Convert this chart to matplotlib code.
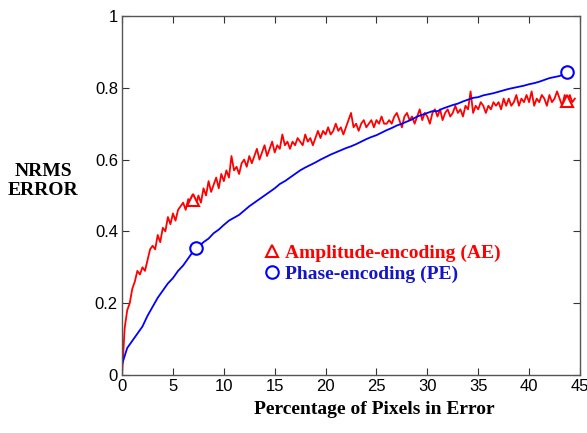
import numpy as np
import matplotlib
matplotlib.use('Agg')
import matplotlib.pyplot as plt
from matplotlib.lines import Line2D

# Amplitude-encoding (AE), sampled every 0.25 % of pixels in error
ae_x = np.arange(0, 44.51, 0.25)
ae_y = [0.00, 0.13, 0.18, 0.20,
        0.24, 0.26, 0.29, 0.28,
        0.30, 0.29, 0.32, 0.35,
        0.36, 0.35, 0.39, 0.37,
        0.41, 0.40, 0.44, 0.42,
        0.45, 0.43, 0.46, 0.47,
        0.48, 0.46, 0.49, 0.48,
        0.49, 0.47, 0.50, 0.48,
        0.52, 0.50, 0.54, 0.51,
        0.53, 0.55, 0.52, 0.56,
        0.54, 0.57, 0.55, 0.61,
        0.57, 0.58, 0.56, 0.59,
        0.60, 0.58, 0.61, 0.59,
        0.61, 0.63, 0.60, 0.62,
        0.64, 0.61, 0.63, 0.65,
        0.62, 0.64, 0.63, 0.67,
        0.64, 0.65, 0.63, 0.65,
        0.64, 0.66, 0.65, 0.64,
        0.67, 0.65, 0.66, 0.64,
        0.66, 0.68, 0.66, 0.68,
        0.67, 0.69, 0.67, 0.68,
        0.70, 0.68, 0.69, 0.67,
        0.69, 0.71, 0.73, 0.69,
        0.70, 0.68, 0.70, 0.71,
        0.69, 0.70, 0.71, 0.69,
        0.71, 0.70, 0.72, 0.70,
        0.70, 0.71, 0.70, 0.72,
        0.73, 0.71, 0.69, 0.72,
        0.73, 0.71, 0.72, 0.70,
        0.72, 0.74, 0.71, 0.73,
        0.72, 0.70, 0.73, 0.74,
        0.72, 0.74, 0.71, 0.73,
        0.74, 0.72, 0.73, 0.75,
        0.73, 0.74, 0.72, 0.75,
        0.74, 0.79, 0.73, 0.75,
        0.74, 0.76, 0.75, 0.73,
        0.75, 0.74, 0.76, 0.75,
        0.76, 0.74, 0.77, 0.75,
        0.77, 0.75, 0.76, 0.78,
        0.75, 0.77, 0.76, 0.78,
        0.76, 0.79, 0.75, 0.77,
        0.76, 0.78, 0.77, 0.75,
        0.78, 0.76, 0.77, 0.79,
        0.77, 0.75, 0.78, 0.76,
        0.78, 0.76, 0.77]

# Phase-encoding (PE), sampled every 0.5 %
pe_x = np.arange(0, 44.01, 0.5)
pe_y = [0.030, 0.075, 0.095, 0.115, 0.135, 0.165, 0.190, 0.215, 0.235, 0.255,
        0.270, 0.290, 0.305, 0.325, 0.345, 0.357, 0.370, 0.380, 0.395, 0.405,
        0.418, 0.430, 0.438, 0.446, 0.458, 0.470, 0.480, 0.490, 0.500, 0.510,
        0.520, 0.532, 0.540, 0.550, 0.560, 0.570, 0.578, 0.585, 0.592, 0.600,
        0.607, 0.614, 0.620, 0.626, 0.632, 0.637, 0.643, 0.650, 0.657, 0.663,
        0.668, 0.675, 0.682, 0.688, 0.695, 0.700, 0.706, 0.712, 0.720, 0.725,
        0.730, 0.735, 0.735, 0.742, 0.747, 0.752, 0.756, 0.762, 0.767, 0.772,
        0.774, 0.779, 0.782, 0.785, 0.789, 0.793, 0.797, 0.800, 0.803, 0.806,
        0.810, 0.813, 0.817, 0.822, 0.827, 0.830, 0.833, 0.838, 0.845]

# marker positions on the curves
ae_mark_x = [7.0, 43.7]
ae_mark_y = [0.487, 0.762]
pe_mark_x = [7.3, 43.7]
pe_mark_y = [0.353, 0.843]

x_ticks = [0, 5, 10, 15, 20, 25, 30, 35, 40, 45]
y_ticks = [0, 0.2, 0.4, 0.6, 0.8, 1]
y_tick_labels = ['0', '0.2', '0.4', '0.6', '0.8', '1']

fig = plt.figure(figsize=(5.87, 4.33), dpi=100)
ax = fig.add_axes([0.208, 0.134, 0.780, 0.829])

ax.plot(ae_x, ae_y, color='red', lw=1.3)
ax.plot(pe_x, pe_y, color='blue', lw=1.3)
ax.plot(ae_mark_x, ae_mark_y, ls='none', marker='^', ms=9, mfc='white',
        mec='red', mew=1.5)
ax.plot(pe_mark_x, pe_mark_y, ls='none', marker='o', ms=9, mfc='white',
        mec='blue', mew=1.5)

ax.set_xlim(0, 45)
ax.set_ylim(0, 1)
ax.set_xticks(x_ticks)
ax.set_yticks(y_ticks)
ax.set_yticklabels(y_tick_labels)
ax.tick_params(direction='in', top=True, right=True, length=5, width=0.8,
               labelsize=12, pad=3, colors='#333333', labelcolor='black')
for lab in ax.get_xticklabels() + ax.get_yticklabels():
    lab.set_family('Liberation Sans')
for sp in ax.spines.values():
    sp.set_color('#555555')
    sp.set_linewidth(1.0)

serif = {'family': 'Liberation Serif', 'weight': 'bold', 'size': 14}
fig.text(43 / 587, 1 - 181 / 433, 'NRMS\nERROR', ha='center', va='center',
         fontdict=serif, linespacing=1.15)
fig.text(374 / 587, 1 - 410 / 433, 'Percentage of Pixels in Error',
         ha='center', va='center', fontdict=serif)

handles = [Line2D([], [], ls='none', marker='^', ms=9, mfc='white', mec='red', mew=1.5),
           Line2D([], [], ls='none', marker='o', ms=9, mfc='white', mec='blue', mew=1.5)]
ax.legend(handles, ['Amplitude-encoding (AE)', 'Phase-encoding (PE)'],
          loc='upper left', bbox_to_anchor=(262 / 587, 1 - 244 / 433),
          bbox_transform=fig.transFigure, frameon=False, borderpad=0,
          borderaxespad=0, handlelength=1.0, handletextpad=0.2, labelspacing=0.2,
          labelcolor=['red', '#1515c8'],
          prop={'family': 'Liberation Serif', 'weight': 'bold', 'size': 14})

fig.savefig('out.png', dpi=100)
